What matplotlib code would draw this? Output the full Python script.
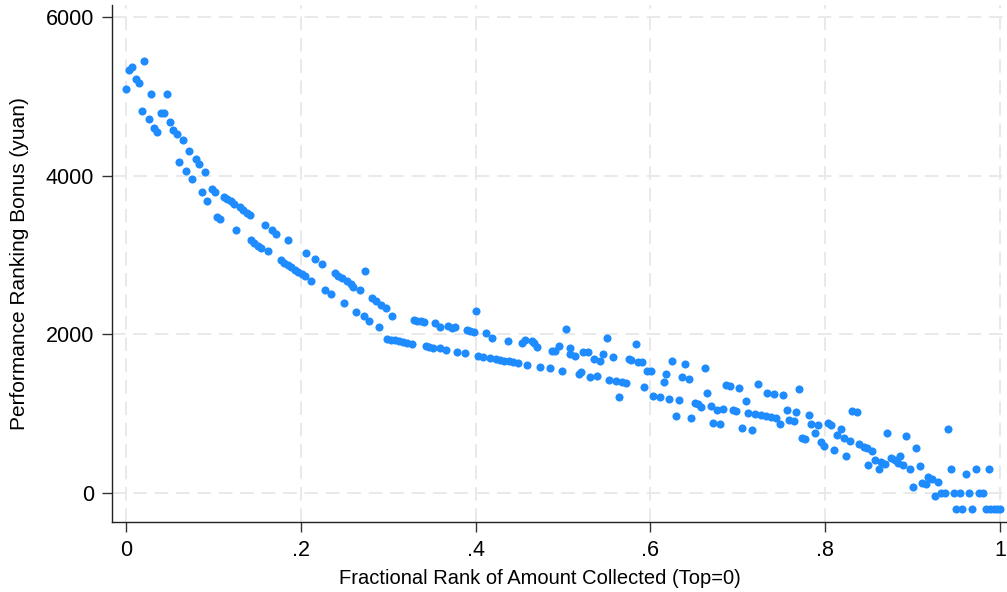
import matplotlib.pyplot as plt

plt.rcParams['font.family'] = ['Liberation Sans', 'DejaVu Sans']

# fractional rank of amount collected (0 = top collector)
rank = [
    0.000, 0.004, 0.007, 0.011, 0.015, 0.018, 0.021, 0.026, 0.029, 0.032,
    0.036, 0.040, 0.043, 0.047, 0.050, 0.054, 0.058, 0.061, 0.065, 0.069,
    0.072, 0.076, 0.080, 0.083, 0.087, 0.090, 0.093, 0.098, 0.102, 0.104,
    0.108, 0.112, 0.116, 0.120, 0.124, 0.126, 0.130, 0.134, 0.138, 0.142,
    0.143, 0.147, 0.151, 0.155, 0.159, 0.163, 0.167, 0.172, 0.177, 0.181,
    0.185, 0.189, 0.193, 0.197, 0.201, 0.205, 0.212, 0.185, 0.206, 0.216,
    0.224, 0.228, 0.235, 0.239, 0.243, 0.247, 0.250, 0.253, 0.257, 0.260,
    0.263, 0.268, 0.272, 0.274, 0.278, 0.281, 0.286, 0.289, 0.292, 0.297,
    0.299, 0.303, 0.308, 0.312, 0.317, 0.322, 0.327, 0.304, 0.329, 0.333,
    0.337, 0.341, 0.343, 0.347, 0.351, 0.354, 0.359, 0.359, 0.366, 0.368,
    0.373, 0.376, 0.379, 0.388, 0.390, 0.394, 0.398, 0.401, 0.403, 0.409,
    0.412, 0.416, 0.419, 0.423, 0.428, 0.433, 0.438, 0.443, 0.448, 0.437,
    0.453, 0.456, 0.459, 0.464, 0.467, 0.470, 0.474, 0.485, 0.487, 0.491,
    0.496, 0.499, 0.503, 0.508, 0.508, 0.514, 0.518, 0.521, 0.523, 0.529,
    0.531, 0.535, 0.539, 0.542, 0.546, 0.550, 0.553, 0.557, 0.561, 0.564,
    0.567, 0.572, 0.575, 0.578, 0.583, 0.586, 0.590, 0.593, 0.596, 0.601,
    0.603, 0.611, 0.615, 0.618, 0.621, 0.625, 0.629, 0.633, 0.636, 0.640,
    0.644, 0.647, 0.651, 0.655, 0.658, 0.662, 0.665, 0.669, 0.672, 0.676,
    0.680, 0.683, 0.687, 0.691, 0.694, 0.698, 0.701, 0.705, 0.709, 0.712,
    0.716, 0.720, 0.723, 0.727, 0.732, 0.733, 0.738, 0.741, 0.744, 0.748,
    0.752, 0.756, 0.759, 0.764, 0.767, 0.770, 0.773, 0.777, 0.781, 0.784,
    0.788, 0.792, 0.795, 0.799, 0.803, 0.807, 0.810, 0.814, 0.818, 0.822,
    0.824, 0.828, 0.831, 0.836, 0.839, 0.844, 0.848, 0.849, 0.853, 0.857,
    0.861, 0.864, 0.868, 0.871, 0.875, 0.880, 0.883, 0.886, 0.889, 0.893,
    0.897, 0.901, 0.904, 0.908, 0.911, 0.915, 0.918, 0.922, 0.926, 0.929,
    0.933, 0.937, 0.940, 0.944, 0.947, 0.950, 0.954, 0.957, 0.961, 0.965,
    0.968, 0.972, 0.976, 0.981, 0.984, 0.987, 0.989, 0.993, 0.997, 1.000,
]

# performance ranking bonus in yuan
bonus = [
    5090, 5330, 5370, 5220, 5170, 4815, 5440, 4710, 5030, 4600,
    4550, 4795, 4795, 5035, 4680, 4575, 4520, 4170, 4445, 4065,
    4310, 3955, 4215, 4150, 3790, 4040, 3685, 3830, 3800, 3485,
    3450, 3735, 3705, 3675, 3640, 3320, 3600, 3570, 3535, 3505,
    3185, 3155, 3120, 3085, 3375, 3050, 3315, 3265, 2935, 2905,
    2875, 2850, 2815, 2790, 2760, 2735, 2672, 3185, 3020, 2945,
    2885, 2560, 2505, 2770, 2740, 2715, 2390, 2670, 2635, 2600,
    2285, 2560, 2235, 2800, 2170, 2455, 2420, 2095, 2370, 2335,
    1945, 1935, 1925, 1915, 1905, 1895, 1885, 2235, 2175, 2170,
    2165, 2155, 1850, 1840, 1830, 2140, 2095, 1825, 1805, 2110,
    2075, 2095, 1780, 1760, 2055, 2045, 2035, 2300, 1727, 1710,
    2013, 1698, 1955, 1690, 1680, 1670, 1660, 1650, 1640, 1912,
    1887, 1929, 1614, 1916, 1887, 1837, 1585, 1572, 1794, 1794,
    1853, 1542, 2063, 1828, 1752, 1727, 1500, 1530, 1781, 1781,
    1466, 1685, 1475, 1664, 1752, 1950, 1424, 1718, 1416, 1210,
    1395, 1390, 1685, 1676, 1874, 1655, 1647, 1340, 1542, 1538,
    1227, 1214, 1395, 1496, 1189, 1668, 974, 1168, 1458, 1630,
    1441, 941, 1130, 1118, 1084, 1576, 1264, 1097, 886, 1046,
    874, 1063, 1357, 1353, 1042, 1034, 1328, 823, 1156, 1004,
    794, 992, 1370, 983, 974, 1264, 962, 1248, 949, 866,
    1231, 1046, 915, 908, 1017, 1307, 689, 681, 979, 870,
    760, 857, 647, 592, 879, 857, 542, 731, 807, 689,
    470, 655, 1038, 1021, 613, 584, 563, 353, 533, 416,
    303, 387, 366, 752, 437, 416, 382, 466, 353, 719,
    298, 79, 563, 344, 130, 109, 198, 181, -38, 143,
    0, 0, 803, 298, 0, -200, 0, -200, 236, 0,
    -200, 298, 0, 0, -200, 298, -200, -200, -200, -200,
]

xticks = [0, 0.2, 0.4, 0.6, 0.8, 1]
xticklabels = ['0', '.2', '.4', '.6', '.8', '1']
yticks = [0, 2000, 4000, 6000]

fig = plt.figure(figsize=(10.07, 5.92), dpi=100)
ax = fig.add_axes([0.1112, 0.118, 0.8888, 0.8736])

ax.scatter(rank, bonus, s=34, color='#1e8cff', linewidths=0, zorder=3)

ax.set_xlim(-0.016, 1.008)
ax.set_ylim(-366, 6151)
ax.set_xticks(xticks)
ax.set_xticklabels(xticklabels)
ax.set_yticks(yticks)

ax.grid(True, color='#e9e9e9', linestyle=(0, (7, 4)), linewidth=1.4, zorder=0)
ax.spines['top'].set_visible(False)
ax.spines['right'].set_visible(False)
for side in ('left', 'bottom'):
    ax.spines[side].set_color('#222222')
    ax.spines[side].set_linewidth(1.0)

ax.tick_params(axis='both', direction='out', length=7, width=1.0,
               color='#333333', labelsize=15.5, pad=6)

ax.set_xlabel('Fractional Rank of Amount Collected (Top=0)', fontsize=14.5)
ax.xaxis.set_label_coords(0.478, -0.09)
ax.set_ylabel('Performance Ranking Bonus (yuan)', fontsize=15)
ax.yaxis.set_label_coords(-0.093, 0.5)

fig.savefig('out.png', dpi=100)
